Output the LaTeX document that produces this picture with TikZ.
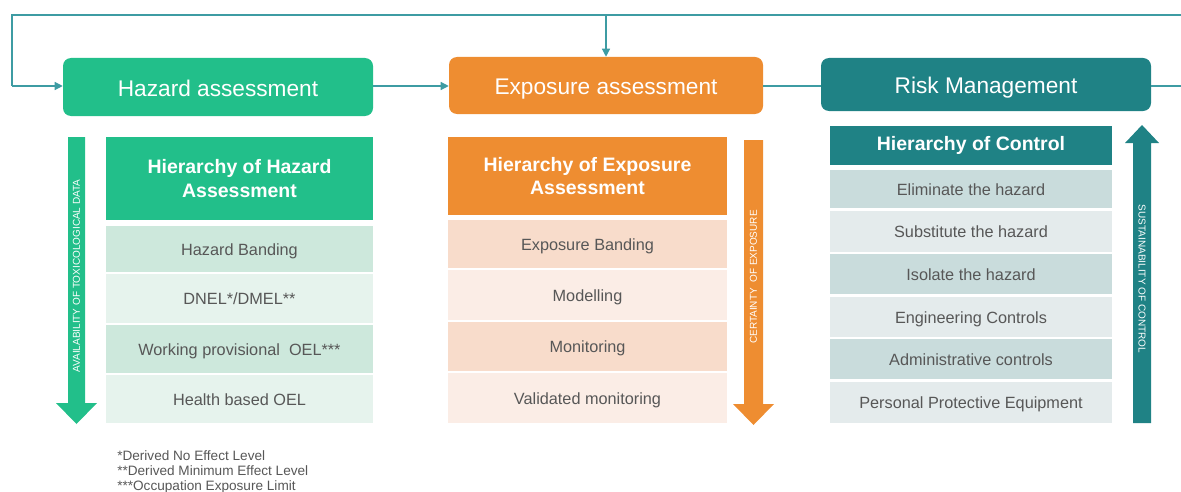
\documentclass[tikz,border=0pt]{standalone}
\usepackage{fontspec}
\setmainfont{Liberation Sans}
\usepackage{tikz}
\usetikzlibrary{arrows.meta}

\definecolor{hazgreen}{HTML}{22BF8A}
\definecolor{hazdark}{HTML}{CDE8DC}
\definecolor{hazlight}{HTML}{E6F3ED}
\definecolor{expor}{HTML}{EE8D31}
\definecolor{expdark}{HTML}{F8DCCB}
\definecolor{explight}{HTML}{FBEDE6}
\definecolor{riskteal}{HTML}{1F8285}
\definecolor{riskdark}{HTML}{C9DCDC}
\definecolor{risklight}{HTML}{E4EBEC}
\definecolor{lineteal}{HTML}{3E9CA3}
\definecolor{txtgrey}{HTML}{575757}

\begin{document}
\begin{tikzpicture}[x=0.75pt,y=-0.75pt,
  sz/.style 2 args={minimum width=#1*0.75pt,minimum height=#2*0.75pt},
  phase/.style={rounded corners=6pt,inner sep=0pt,text=white,text height=15.5pt,text depth=1.8pt,font=\fontsize{17}{20}\selectfont},
  headbox/.style={inner sep=0pt,text=white,align=center,font=\bfseries\fontsize{14.6}{17.5}\selectfont},
  rowbox/.style={inner sep=0pt,text=txtgrey,text height=11.8pt,text depth=2.6pt,font=\fontsize{12.2}{14}\selectfont},
  flow/.style={draw=lineteal,line width=0.9pt},
  tip/.style={-{Triangle[length=6pt,width=6pt]}},
  arrowtxt/.style={text=white,font=\fontsize{7.5}{9}\selectfont}]
  \useasboundingbox (0,0) rectangle (1181,492);

  % Phases
  \node[phase,fill=hazgreen,sz={310}{58}] (hazard) at (218,87) {Hazard assessment};
  \node[phase,fill=expor,sz={314}{57}] (exposure) at (606,85.5) {Exposure assessment};
  \node[phase,fill=riskteal,sz={330}{53}] (risk) at (986,84.5) {Risk Management};

  % Feedback loop
  \coordinate (loopR) at (1181,15);
  \coordinate (loopL) at (12,15);
  \coordinate (loopD) at (12,86);
  \coordinate (loopM) at (606,15);
  \coordinate (outR) at (1181,86);
  \draw[flow] (loopR) -- (loopL) -- (loopD);
  \draw[flow,tip] (loopD) -- (hazard.west |- loopD);
  \draw[flow,tip] (loopM) -- (exposure.north);
  \draw[flow,tip] (hazard.east |- loopD) -- (exposure.west |- loopD);
  \draw[flow] (exposure.east |- loopD) -- (risk.west |- loopD);
  \draw[flow] (risk.east |- loopD) -- (outR);

  % Hazard hierarchy
  \node[headbox,fill=hazgreen,sz={267}{83}] (hazhead) at (239.5,178.5) {Hierarchy of Hazard\\Assessment};
  \node[rowbox,fill=hazdark,sz={267}{46}] (haz1) at (239.5,249) {Hazard Banding};
  \node[rowbox,fill=hazlight,sz={267}{49}] (haz2) at (239.5,298.5) {DNEL*/DMEL**};
  \node[rowbox,fill=hazdark,sz={267}{48}] (haz3) at (239.5,349) {Working provisional\ \ OEL***};
  \node[rowbox,fill=hazlight,sz={267}{48}] (haz4) at (239.5,399) {Health based OEL};
  \fill[hazgreen] (68,137) -- (85,137) -- (85,403) -- (97,403) -- (76.5,424) -- (56,403) -- (68,403) -- cycle;
  \node[arrowtxt,rotate=90] (haztxt) at (76.5,276) {AVAILABILITY OF TOXICOLOGICAL DATA};

  % Exposure hierarchy
  \node[headbox,fill=expor,sz={279}{78}] (exphead) at (587.5,176) {Hierarchy of Exposure\\Assessment};
  \node[rowbox,fill=expdark,sz={279}{48}] (exp1) at (587.5,244) {Exposure Banding};
  \node[rowbox,fill=explight,sz={279}{50}] (exp2) at (587.5,295) {Modelling};
  \node[rowbox,fill=expdark,sz={279}{49}] (exp3) at (587.5,346.5) {Monitoring};
  \node[rowbox,fill=explight,sz={279}{50}] (exp4) at (587.5,398) {Validated monitoring};
  \fill[expor] (744,140) -- (763,140) -- (763,404) -- (774,404) -- (753.5,425) -- (733,404) -- (744,404) -- cycle;
  \node[arrowtxt,rotate=90] (exptxt) at (753.5,277) {CERTAINTY\ \ OF EXPOSURE};

  % Control hierarchy
  \node[headbox,fill=riskteal,sz={282}{39}] (riskhead) at (971,145.5) {Hierarchy of Control};
  \node[rowbox,fill=riskdark,sz={282}{38}] (risk1) at (971,189) {Eliminate the hazard};
  \node[rowbox,fill=risklight,sz={282}{41}] (risk2) at (971,231.5) {Substitute the hazard};
  \node[rowbox,fill=riskdark,sz={282}{40}] (risk3) at (971,274) {Isolate the hazard};
  \node[rowbox,fill=risklight,sz={282}{40}] (risk4) at (971,317) {Engineering Controls};
  \node[rowbox,fill=riskdark,sz={282}{40}] (risk5) at (971,359) {Administrative controls};
  \node[rowbox,fill=risklight,sz={282}{41}] (risk6) at (971,402.5) {Personal Protective Equipment};
  \fill[riskteal] (1133,423) -- (1151,423) -- (1151,143) -- (1159,143) -- (1142,125) -- (1125,143) -- (1133,143) -- cycle;
  \node[arrowtxt,rotate=-90] (risktxt) at (1142,279) {SUSTAINABILITY OF CONTROL};

  % Footnotes
  \node[anchor=north west,inner sep=0pt,align=left,text=txtgrey,font=\fontsize{10.2}{11.25}\selectfont] (notes) at (117,450)
    {*Derived No Effect Level\\**Derived Minimum Effect Level\\***Occupation Exposure Limit};
\end{tikzpicture}
\end{document}
